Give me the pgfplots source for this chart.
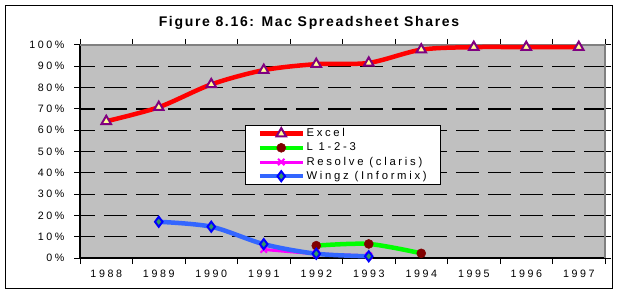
\documentclass[border=0pt]{standalone}
\usepackage{fontspec}
\setmainfont{Liberation Sans}[LetterSpace=24]
\newfontfamily\titlefont{Liberation Sans}[LetterSpace=12]
\usepackage{pgfplots}
\pgfplotsset{compat=1.18}
\definecolor{plotgray}{RGB}{192,192,192}
\definecolor{framegray}{RGB}{128,128,128}
\definecolor{exred}{RGB}{255,0,0}
\definecolor{expurple}{RGB}{128,0,128}
\definecolor{exfill}{RGB}{255,255,153}
\definecolor{lgreen}{RGB}{0,255,0}
\definecolor{lmaroon}{RGB}{128,0,0}
\definecolor{rmag}{RGB}{255,0,255}
\definecolor{wblue}{RGB}{51,102,255}
\definecolor{wdark}{RGB}{0,0,255}
\definecolor{wgreen}{RGB}{51,153,102}
\begin{document}
\begin{tikzpicture}[x=1bp,y=1bp]
\useasboundingbox (0,0) rectangle (618,295);
\draw[black, line width=1bp] (5.5,7) rectangle (612.5,289.5);
\node[font=\titlefont\bfseries\fontsize{14bp}{16bp}\selectfont, inner sep=0pt] at (309,272) {Figure 8.16: Mac Spreadsheet Shares};
\begin{axis}[
  at={(80bp,37bp)}, anchor=south west,
  scale only axis, width=525bp, height=213bp,
  xmin=-0.5, xmax=9.5, ymin=0, ymax=100,
  clip=false,
  axis line style={draw=none},
  axis background/.style={fill=plotgray},
  tick align=outside,
  major tick length=6bp,
  tick style={black, line width=1bp},
  xtick={-0.5,0.5,...,9.5},
  xticklabels={},
  extra x ticks={0,1,...,9},
  extra x tick labels={1988,1989,1990,1991,1992,1993,1994,1995,1996,1997},
  extra x tick style={major tick length=0pt, tick style={draw=none}},
  xticklabel style={font=\fontsize{10.7bp}{12bp}\selectfont, anchor=north, yshift=-9bp},
  ytick={0,10,...,100},
  yticklabels={0\%,10\%,20\%,30\%,40\%,50\%,60\%,70\%,80\%,90\%,100\%},
  yticklabel style={font=\fontsize{10.7bp}{12bp}\selectfont, anchor=east, xshift=-6bp},
  extra y ticks={10,20,...,90},
  extra y tick labels={},
  extra y tick style={grid=major, major tick length=0pt},
  major grid style={black, line width=1.2bp, dash pattern=on 23bp off 9bp, dash phase=8bp},
  legend style={at={(0.3143,0.6244)}, anchor=north west, draw=black, line width=1bp, fill=white,
    font=\fontsize{11.3bp}{13bp}\selectfont, legend cell align=left,
    inner xsep=12bp, inner ysep=1bp,
    nodes={inner sep=1.5bp, text height=8.6bp, text depth=2.6bp}},
  legend image code/.code={\draw[mark repeat=2,mark phase=2,#1] plot coordinates {(0bp,0bp) (21.5bp,0bp) (43bp,0bp)};},
]
\draw[black, line width=2bp] (rel axis cs:0,1) -- (rel axis cs:0,0) -- (rel axis cs:1,0);
\draw[framegray, line width=2bp] (rel axis cs:0,1) -- (rel axis cs:1,1) -- (rel axis cs:1,0);
\addplot[exred, line width=4.5bp, smooth, mark=triangle*, mark size=5.5bp,
  mark options={fill=exfill, draw=expurple, line width=2bp, solid}]
  coordinates {(0,64.2)(1,70.8)(2,81.5)(3,88.2)(4,91)(5,91.6)(6,97.8)(7,99)(8,99)(9,99)};
\addlegendentry{Excel}
\addplot[lgreen, line width=4.5bp, smooth, mark=*, mark size=4.5bp,
  mark options={fill=lmaroon, draw=lmaroon, line width=0.5bp, solid}]
  coordinates {(4,5.8)(5,6.6)(6,2.2)};
\addlegendentry{L 1-2-3}
\addplot[rmag, line width=3bp, smooth, mark=x, mark size=4.5bp,
  mark options={draw=rmag, line width=2bp, solid}]
  coordinates {(3,4)(4,2)(5,1)};
\addlegendentry{Resolve (claris)}
\addplot[wblue, line width=4.5bp, smooth, mark=diamond*, mark size=5bp,
  mark options={fill=wgreen, draw=wdark, line width=2bp, solid}]
  coordinates {(1,17)(2,14.7)(3,6.5)(4,2)(5,0.8)};
\addlegendentry{Wingz (Informix)}
\end{axis}
\end{tikzpicture}
\end{document}
